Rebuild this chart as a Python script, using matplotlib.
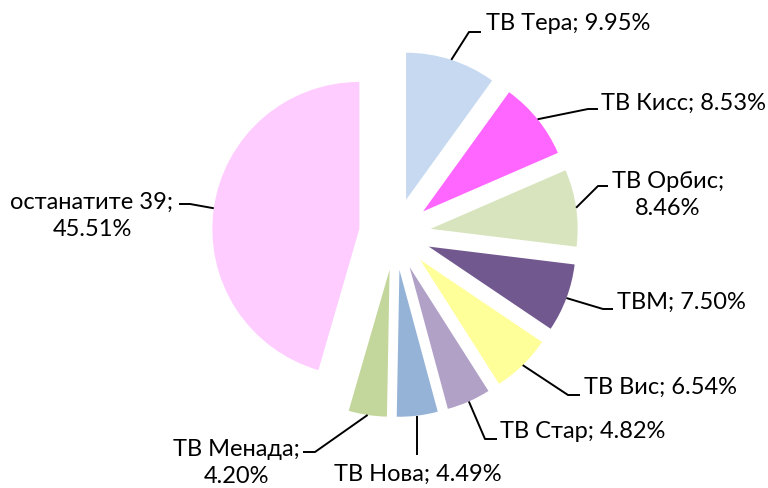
import numpy as np
import matplotlib
matplotlib.use("Agg")
import matplotlib.pyplot as plt

plt.rcParams['font.family'] = ['Lato', 'DejaVu Sans']

# data
names = ["ТВ Тера", "ТВ Кисс", "ТВ Орбис", "ТВМ", "ТВ Вис", "ТВ Стар",
         "ТВ Нова", "ТВ Менада", "останатите 39"]
shares = [9.95, 8.53, 8.46, 7.50, 6.54, 4.82, 4.49, 4.20, 45.51]
colors = ["#C6D9F1", "#FF66FF", "#D7E4BD", "#71588F", "#FFFF99",
          "#B2A1C7", "#95B3D7", "#C3D69B", "#FFCCFF"]
# label text: two-line labels where the reference wraps
label_text = [
    "ТВ Тера; 9.95%", "ТВ Кисс; 8.53%", "ТВ Орбис;\n8.46%", "ТВМ; 7.50%",
    "ТВ Вис; 6.54%", "ТВ Стар; 4.82%", "ТВ Нова; 4.49%", "ТВ Менада;\n4.20%",
    "останатите 39;\n45.51%",
]

W, H = 768, 488
fig = plt.figure(figsize=(W / 100, H / 100), dpi=100)
ax = fig.add_axes([0, 0, 1, 1])

R = 147
cx, cy = 395, H - 234
wedges, _ = ax.pie(shares, colors=colors, startangle=90, counterclock=False,
                   radius=R, center=(cx, cy), explode=[0.245 * R] * len(shares),
                   wedgeprops=dict(linewidth=0))

# layout: (elbow x, elbow y, end x, text x, text y, ha) in pixel coords (y from top)
layout = [
    (469, 32, 481, 486, 24, "left"),
    (588, 109, 598, 601, 103, "left"),
    (598, 186, 608, 668, 195, "center"),
    (603, 309, 613, 617, 302, "left"),
    (568, 395, 580, 584, 387, "left"),
    (485, 439, 497, 500, 432, "left"),
    (None, 455, None, 418, 474, "center"),
    (315, 452, 303, 236, 463, "center"),
    (190, 204, 179, 92, 216, "center"),
]

for w, txt, (ex, ey, endx, tx, ty, ha) in zip(wedges, label_text, layout):
    mid = np.deg2rad((w.theta1 + w.theta2) / 2)
    ax_, ay_ = w.center[0] + w.r * np.cos(mid), w.center[1] + w.r * np.sin(mid)
    if ex is None:
        xs, ys = [ax_, ax_], [ay_, H - ey]
    else:
        xs, ys = [ax_, ex, endx], [ay_, H - ey, H - ey]
    ax.plot(xs, ys, color="black", lw=1.4, solid_capstyle="butt")
    ax.text(tx, H - ty, txt, ha=ha, va="center", fontsize=17,
            linespacing=1.4, multialignment="center")

ax.set_xlim(0, W)
ax.set_ylim(0, H)
ax.set_aspect("equal")
ax.axis("off")

fig.savefig("out.png", dpi=100)
